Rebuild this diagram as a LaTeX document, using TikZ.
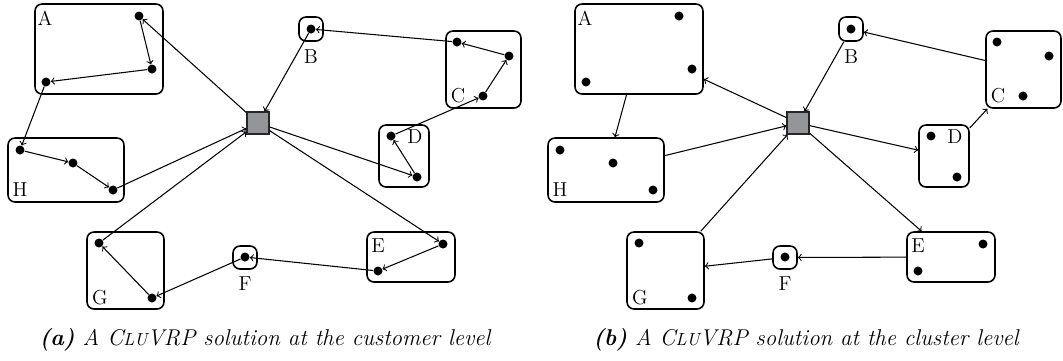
\documentclass[tikz,border=0pt]{standalone}
\usepackage{fontspec}
\usepackage{tikz}

\definecolor{depotgray}{RGB}{148,149,153}

\begin{document}
\begin{tikzpicture}[x=0.02cm, y=-0.02cm,
	clus/.style={draw, rounded corners=0.14cm, line width=0.9pt, inner sep=0pt},
	cust/.style={circle, fill=black, inner sep=0pt, minimum size=0.18cm},
	depot/.style={draw=black!85, fill=depotgray, line width=0.7pt, inner sep=0pt, minimum size=0.44cm},
	route/.style={->, line width=0.6pt},
	lab/.style={inner sep=0pt, font=\fontsize{11.5}{13}\selectfont},
	capt/.style={inner sep=0pt, font=\fontsize{13}{15}\selectfont\itshape}]
	\useasboundingbox (0,0) rectangle (1063,360);

	% (a) customer level
	% Clusters
	\node[clus, minimum width=2.56cm, minimum height=1.80cm] (A) at (99,49) {};
	\node[clus, minimum width=0.48cm, minimum height=0.48cm] (B) at (311,29) {};
	\node[clus, minimum width=1.50cm, minimum height=1.54cm] (C) at (483.5,69.5) {};
	\node[clus, minimum width=1.00cm, minimum height=1.24cm] (D) at (404,156) {};
	\node[clus, minimum width=1.76cm, minimum height=1.00cm] (E) at (411,257) {};
	\node[clus, minimum width=0.48cm, minimum height=0.46cm] (F) at (245,257.5) {};
	\node[clus, minimum width=1.54cm, minimum height=1.54cm] (G) at (125.5,270.5) {};
	\node[clus, minimum width=2.32cm, minimum height=1.28cm] (H) at (66,170) {};
	\node[depot] (dep) at (258,123) {};

	% Cluster names
	\node[lab] (labA) at (45,18) {A};
	\node[lab] (labB) at (311,57) {B};
	\node[lab] (labC) at (458,96) {C};
	\node[lab] (labD) at (415,137) {D};
	\node[lab] (labE) at (378,246) {E};
	\node[lab] (labF) at (245,284) {F};
	\node[lab] (labG) at (100,298) {G};
	\node[lab] (labH) at (20,190) {H};

	% Customers
	\node[cust] (a1) at (139,16) {};
	\node[cust] (a2) at (152,69) {};
	\node[cust] (a3) at (46,82) {};
	\node[cust] (b1) at (311,29) {};
	\node[cust] (c1) at (457,42) {};
	\node[cust] (c2) at (509,56) {};
	\node[cust] (c3) at (483,96) {};
	\node[cust] (d1) at (391,136) {};
	\node[cust] (d2) at (417,177) {};
	\node[cust] (e1) at (443,244) {};
	\node[cust] (e2) at (378,271) {};
	\node[cust] (f1) at (245,257) {};
	\node[cust] (g1) at (99,243) {};
	\node[cust] (g2) at (152,298) {};
	\node[cust] (h1) at (20,150) {};
	\node[cust] (h2) at (73,163) {};
	\node[cust] (h3) at (113,190) {};

	% Routes
	\draw[route] (dep) -- (a1);
	\draw[route] (a1) -- (a2);
	\draw[route] (a2) -- (a3);
	\draw[route] (a3) -- (h1);
	\draw[route] (h1) -- (h2);
	\draw[route] (h2) -- (h3);
	\draw[route] (h3) -- (dep);

	\draw[route] (dep) -- (d2);
	\draw[route] (d2) -- (d1);
	\draw[route] (d1) -- (c3);
	\draw[route] (c3) -- (c2);
	\draw[route] (c2) -- (c1);
	\draw[route] (c1) -- (b1);
	\draw[route] (b1) -- (dep);

	\draw[route] (dep) -- (e1);
	\draw[route] (e1) -- (e2);
	\draw[route] (e2) -- (f1);
	\draw[route] (f1) -- (g2);
	\draw[route] (g2) -- (g1);
	\draw[route] (g1) -- (dep);

	\node[capt] (capa) at (265,340) {\textbf{(a)} A C{\fontsize{10}{12}\selectfont LU}VRP solution at the customer level};

	% (b) cluster level
	% Clusters
	\node[clus, minimum width=2.56cm, minimum height=1.80cm] (Ab) at (639,49) {};
	\node[clus, minimum width=0.48cm, minimum height=0.48cm] (Bb) at (851,29) {};
	\node[clus, minimum width=1.50cm, minimum height=1.54cm] (Cb) at (1023.5,69.5) {};
	\node[clus, minimum width=1.00cm, minimum height=1.24cm] (Db) at (944,156) {};
	\node[clus, minimum width=1.76cm, minimum height=1.00cm] (Eb) at (951,257) {};
	\node[clus, minimum width=0.48cm, minimum height=0.46cm] (Fb) at (785,257.5) {};
	\node[clus, minimum width=1.54cm, minimum height=1.54cm] (Gb) at (665.5,270.5) {};
	\node[clus, minimum width=2.32cm, minimum height=1.28cm] (Hb) at (606,170) {};
	\node[depot] (depb) at (798,123) {};

	% Cluster names
	\node[lab] (labAb) at (585,18) {A};
	\node[lab] (labBb) at (851,57) {B};
	\node[lab] (labCb) at (998,96) {C};
	\node[lab] (labDb) at (955,137) {D};
	\node[lab] (labEb) at (918,246) {E};
	\node[lab] (labFb) at (785,284) {F};
	\node[lab] (labGb) at (640,298) {G};
	\node[lab] (labHb) at (560,190) {H};

	% Customers
	\node[cust] (a1b) at (679,16) {};
	\node[cust] (a2b) at (692,69) {};
	\node[cust] (a3b) at (586,82) {};
	\node[cust] (b1b) at (851,29) {};
	\node[cust] (c1b) at (997,42) {};
	\node[cust] (c2b) at (1049,56) {};
	\node[cust] (c3b) at (1023,96) {};
	\node[cust] (d1b) at (931,136) {};
	\node[cust] (d2b) at (957,177) {};
	\node[cust] (e1b) at (983,244) {};
	\node[cust] (e2b) at (918,271) {};
	\node[cust] (f1b) at (785,257) {};
	\node[cust] (g1b) at (639,243) {};
	\node[cust] (g2b) at (692,298) {};
	\node[cust] (h1b) at (560,150) {};
	\node[cust] (h2b) at (613,163) {};
	\node[cust] (h3b) at (653,190) {};

	% Routes
	\draw[route] (depb) -- (Ab);
	\draw[route] (Ab) -- (Hb);
	\draw[route] (Hb) -- (depb);

	\draw[route] (depb) -- (Db);
	\draw[route] (Db) -- (Cb);
	\draw[route] (Cb) -- (Bb);
	\draw[route] (Bb) -- (depb);

	\draw[route] (depb) -- (Eb);
	\draw[route] (Eb) -- (Fb);
	\draw[route] (Fb) -- (Gb);
	\draw[route] (Gb) -- (depb);

	\node[capt] (capb) at (806,340) {\textbf{(b)} A C{\fontsize{10}{12}\selectfont LU}VRP solution at the cluster level};

\end{tikzpicture}
\end{document}
